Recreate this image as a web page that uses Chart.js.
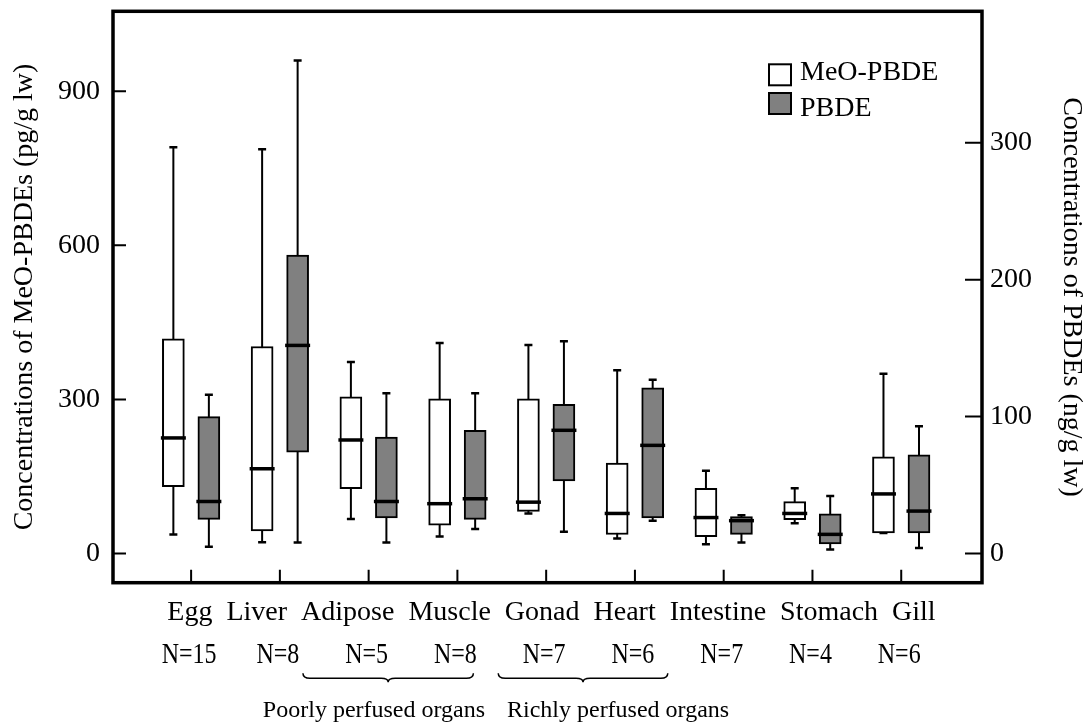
<!DOCTYPE html>
<html>
<head>
<meta charset="utf-8">
<title>MeO-PBDEs and PBDEs in tissues</title>
<script src="https://cdn.jsdelivr.net/npm/chart.js@4.4.1/dist/chart.umd.min.js"></script>
<style>
  html, body { margin: 0; padding: 0; background: #fff; }
  #wrap { width: 1085px; height: 722px; }
</style>
</head>
<body>
<div id="wrap"><canvas id="boxChart"></canvas></div>
<script>
const tissues = ['Egg', 'Liver', 'Adipose', 'Muscle', 'Gonad', 'Heart', 'Intestine', 'Stomach', 'Gill'];
const sampleSizes = [15, 8, 5, 8, 7, 6, 7, 4, 6];
const organGroups = ['Poorly perfused organs', 'Richly perfused organs'];
const leftTicks = [0, 300, 600, 900];
const rightTicks = [0, 100, 200, 300];

// MeO-PBDEs (pg/g lw), left axis
const meoMin    = [37, 22, 67, 33, 78, 29, 18, 59, 40];
const meoQ1     = [130, 44, 126, 55, 82, 37, 33, 66, 40];
const meoMedian = [225, 165, 221, 97, 100, 78, 70, 78, 116];
const meoQ3     = [418, 403, 305, 301, 301, 176, 127, 101, 188];
const meoMax    = [791, 787, 373, 410, 406, 357, 161, 127, 350];

// PBDEs (ng/g lw), right axis
const pbdeMin    = [5, 8, 8, 18, 16, 24, 8, 3, 4];
const pbdeQ1     = [25, 74, 26, 25, 53, 26, 14, 7, 15];
const pbdeMedian = [38, 152, 38, 40, 90, 79, 24, 14, 31];
const pbdeQ3     = [100, 218, 85, 90, 109, 121, 27, 29, 72];
const pbdeMax    = [116, 360, 117, 117, 155, 127, 28, 42, 93];

const serif = "'Liberation Serif', 'Times New Roman', Times, serif";
const ink = '#000';
const pairOffset = 0.2;

// where the braces and their captions sit, in x-axis units
const braceSpans = [[1.26, 3.18], [3.46, 5.37]];
const groupCenters = [2.06, 4.81];

function boxData(q1, q3, shift) {
    return tissues.map((t, i) => ({ x: i + shift, y: [q1[i], q3[i]] }));
}

function boxDataset(label, q1, q3, lo, mid, hi, shift, axis, fill) {
    return {
        label: label,
        data: boxData(q1, q3, shift),
        yAxisID: axis,
        backgroundColor: fill,
        borderColor: ink,
        borderWidth: 2,
        borderSkipped: false,
        grouped: false,
        barPercentage: 1,
        categoryPercentage: 1,
        maxBarThickness: 22,
        whiskerLow: lo,
        whiskerHigh: hi,
        median: mid,
        shift: shift
    };
}

function noEdgePadding(s) {
    s.paddingTop = 0;
    s.paddingBottom = 0;
}

const boxExtras = {
    id: 'boxExtras',
    beforeDatasetsDraw(chart) {
        const { ctx, scales } = chart;
        ctx.save();
        ctx.strokeStyle = ink;
        chart.data.datasets.forEach(ds => {
            const ys = scales[ds.yAxisID];
            tissues.forEach((t, i) => {
                const px = scales.x.getPixelForValue(i + ds.shift);
                const top = ys.getPixelForValue(ds.whiskerHigh[i]);
                const bot = ys.getPixelForValue(ds.whiskerLow[i]);
                ctx.lineWidth = 2;
                ctx.beginPath();
                ctx.moveTo(px, top);
                ctx.lineTo(px, bot);
                ctx.stroke();
                ctx.lineWidth = 2.5;
                ctx.beginPath();
                ctx.moveTo(px - 4, top);
                ctx.lineTo(px + 4, top);
                ctx.moveTo(px - 4, bot);
                ctx.lineTo(px + 4, bot);
                ctx.stroke();
            });
        });
        ctx.restore();
    },
    afterDatasetsDraw(chart) {
        const { ctx, scales } = chart;
        ctx.save();
        ctx.strokeStyle = ink;
        ctx.lineWidth = 3.5;
        chart.data.datasets.forEach(ds => {
            const ys = scales[ds.yAxisID];
            tissues.forEach((t, i) => {
                const px = scales.x.getPixelForValue(i + ds.shift);
                const py = ys.getPixelForValue(ds.median[i]);
                ctx.beginPath();
                ctx.moveTo(px - 12.5, py);
                ctx.lineTo(px + 12.5, py);
                ctx.stroke();
            });
        });
        ctx.restore();
    },
    afterDraw(chart) {
        const { ctx, chartArea: area, scales } = chart;
        const x = scales.x;
        ctx.save();

        // frame
        ctx.strokeStyle = ink;
        ctx.lineWidth = 3.5;
        ctx.strokeRect(area.left, area.top, area.right - area.left, area.bottom - area.top);

        // inward tick marks
        ctx.lineWidth = 2;
        ctx.beginPath();
        scales.y.ticks.forEach(t => {
            const py = scales.y.getPixelForValue(t.value);
            ctx.moveTo(area.left, py);
            ctx.lineTo(area.left + 13, py);
        });
        scales.y2.ticks.forEach(t => {
            const py = scales.y2.getPixelForValue(t.value);
            ctx.moveTo(area.right, py);
            ctx.lineTo(area.right - 17, py);
        });
        tissues.forEach((t, i) => {
            const px = x.getPixelForValue(i);
            ctx.moveTo(px, area.bottom);
            ctx.lineTo(px, area.bottom - 13);
        });
        ctx.stroke();

        // tissue names, one row
        ctx.fillStyle = ink;
        ctx.textBaseline = 'alphabetic';
        ctx.font = '28px ' + serif;
        ctx.textAlign = 'left';
        const gap = 14;
        const widths = tissues.map(t => ctx.measureText(t).width);
        const total = widths.reduce((a, b) => a + b, 0) + gap * (tissues.length - 1);
        let cx = x.getPixelForValue((tissues.length - 1) / 2 + 0.06) - total / 2;
        tissues.forEach((t, i) => {
            ctx.fillText(t, cx, area.bottom + 37);
            cx += widths[i] + gap;
        });

        // sample sizes, set a little condensed like the original
        ctx.font = '30px ' + serif;
        ctx.textAlign = 'center';
        sampleSizes.forEach((n, i) => {
            ctx.save();
            ctx.translate(x.getPixelForValue(i) - 2, area.bottom + 80.6);
            ctx.scale(0.8, 1);
            ctx.fillText('N=' + n, 0, 0);
            ctx.restore();
        });

        // braces and group captions
        ctx.font = '24px ' + serif;
        const y0 = area.bottom + 90.6, y1 = area.bottom + 95.6, y2 = area.bottom + 99.5;
        const r = 7;
        ctx.lineWidth = 1.5;
        braceSpans.forEach((span, g) => {
            const a = x.getPixelForValue(span[0]);
            const b = x.getPixelForValue(span[1]);
            const tip = (a + b) / 2;
            ctx.beginPath();
            ctx.moveTo(a, y0);
            ctx.quadraticCurveTo(a, y1, a + r, y1);
            ctx.lineTo(tip - r, y1);
            ctx.quadraticCurveTo(tip, y1, tip, y2);
            ctx.quadraticCurveTo(tip, y1, tip + r, y1);
            ctx.lineTo(b - r, y1);
            ctx.quadraticCurveTo(b, y1, b, y0);
            ctx.stroke();
            ctx.fillText(organGroups[g], x.getPixelForValue(groupCenters[g]), area.bottom + 134);
        });

        // legend
        const lx = area.right - 213;
        const ly = area.top + 53;
        ctx.font = '28px ' + serif;
        ctx.textAlign = 'left';
        ctx.lineWidth = 2;
        chart.data.datasets.forEach((ds, d) => {
            const sy = ly + d * 28.7;
            ctx.fillStyle = ds.backgroundColor;
            ctx.fillRect(lx, sy, 22, 21);
            ctx.strokeRect(lx, sy, 22, 21);
            ctx.fillStyle = ink;
            ctx.fillText(ds.label, lx + 31, ly + 15.3 + d * 36.4);
        });

        ctx.restore();
    }
};

new Chart(document.getElementById('boxChart'), {
    type: 'bar',
    data: {
        datasets: [
            boxDataset('MeO-PBDE', meoQ1, meoQ3, meoMin, meoMedian, meoMax, -pairOffset, 'y', '#ffffff'),
            boxDataset('PBDE', pbdeQ1, pbdeQ3, pbdeMin, pbdeMedian, pbdeMax, pairOffset, 'y2', '#808080')
        ]
    },
    options: {
        responsive: true,
        maintainAspectRatio: false,
        animation: false,
        layout: { padding: { top: 11.3, left: 0, right: 0, bottom: 0 } },
        plugins: {
            legend: { display: false },
            tooltip: { enabled: false }
        },
        scales: {
            x: {
                type: 'linear',
                offset: false,
                min: -0.88,
                max: 8.91,
                grid: { display: false, drawTicks: false },
                border: { display: false },
                ticks: { display: false },
                afterFit: s => { s.height = 139.3; s.paddingLeft = 0; s.paddingRight = 0; }
            },
            y: {
                type: 'linear',
                position: 'left',
                min: -56.8,
                max: 1055.5,
                grid: { display: false, drawTicks: false },
                border: { display: false },
                afterBuildTicks: s => { s.ticks = leftTicks.map(v => ({ value: v })); },
                ticks: { color: ink, padding: 13, font: { family: serif, size: 28 } },
                title: {
                    display: true,
                    text: 'Concentrations of MeO-PBDEs (pg/g lw)',
                    color: ink,
                    font: { family: serif, size: 28, lineHeight: 1 },
                    padding: { top: 11, bottom: 0 }
                },
                afterFit: s => { s.width = 113; noEdgePadding(s); }
            },
            y2: {
                type: 'linear',
                position: 'right',
                min: -21.3,
                max: 396,
                grid: { display: false, drawTicks: false },
                border: { display: false },
                afterBuildTicks: s => { s.ticks = rightTicks.map(v => ({ value: v })); },
                ticks: { color: ink, padding: 8, font: { family: serif, size: 28 } },
                title: {
                    display: true,
                    text: 'Concentrations of PBDEs (ng/g lw)',
                    color: ink,
                    font: { family: serif, size: 28, lineHeight: 1 },
                    padding: { top: 0, bottom: 0 }
                },
                afterFit: s => { s.width = 103; noEdgePadding(s); }
            }
        }
    },
    plugins: [boxExtras]
});
</script>
</body>
</html>
